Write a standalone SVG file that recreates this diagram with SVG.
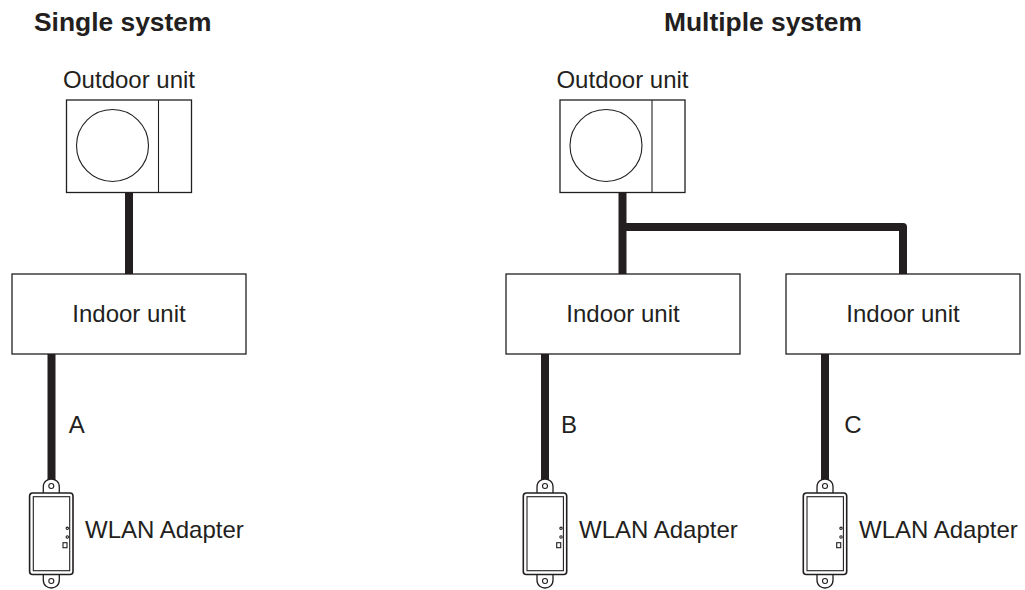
<svg xmlns="http://www.w3.org/2000/svg" width="1025" height="590" viewBox="0 0 1025 590">
<defs>
<style>
text{font-family:"Liberation Sans",Arial,sans-serif;font-size:24px;fill:#231f20}
.h{font-weight:bold;font-size:26.4px}
.box{fill:#fff;stroke:#231f20;stroke-width:1.3}
.body{fill:#fff;stroke:#231f20;stroke-width:1.6}
.thin{fill:none;stroke:#231f20;stroke-width:1.1}
.wire{fill:none;stroke:#231f20;stroke-width:8;stroke-linejoin:round}
</style>
<g id="outdoorShape">
<rect class="box" x="0" y="0" width="125" height="92.5"/>
<line class="thin" x1="92" y1="0" x2="92" y2="92.5"/>
<circle class="thin" cx="46" cy="45.5" r="36"/>
</g>
<g id="adapterShape">
<path class="box" d="M-8 2V-6Q-8 -10 -5.500 -12Q-3 -14 0 -14Q3 -14 5.500 -12Q8 -10 8 -6V2Z"/>
<circle class="thin" cx="0" cy="-7" r="2.500"/>
<path class="box" d="M-8 80V87Q-8 91 -5.500 93Q-3 95 0 95Q3 95 5.500 93Q8 91 8 87V80Z"/>
<circle class="thin" cx="0" cy="88" r="2.500"/>
<rect class="body" x="-21.700" y="0" width="43.400" height="81.500" rx="3"/>
<rect class="thin" x="-18" y="3.700" width="36.400" height="74"/>
<circle class="thin" cx="16" cy="35.300" r="1.200"/>
<circle class="thin" cx="16" cy="44" r="1.200"/>
<rect class="thin" x="11.700" y="49.700" width="4" height="5"/>
</g>
</defs>
<g id="connectors">
<line class="wire" x1="129" y1="192" x2="129" y2="274"/>
<line class="wire" x1="51.500" y1="354" x2="51.500" y2="480"/>
<line class="wire" x1="622.500" y1="192" x2="622.500" y2="274"/>
<path class="wire" d="M622.500 227H903V274"/>
<line class="wire" x1="545" y1="354" x2="545" y2="480"/>
<line class="wire" x1="825" y1="354" x2="825" y2="480"/>
</g>
<text id="title-single" class="h" x="34" y="31">Single system</text>
<text id="title-multiple" class="h" x="664" y="31">Multiple system</text>
<g id="outdoor-1"><text x="129" y="88" text-anchor="middle">Outdoor unit</text><use href="#outdoorShape" x="66.500" y="100"/></g>
<g id="outdoor-2"><text x="622.500" y="88" text-anchor="middle">Outdoor unit</text><use href="#outdoorShape" x="560" y="100"/></g>
<g id="indoor-1"><rect class="box" x="12" y="274" width="234" height="80"/><text x="129" y="322" text-anchor="middle">Indoor unit</text></g>
<g id="indoor-2"><rect class="box" x="506" y="274" width="234" height="80"/><text x="623" y="322" text-anchor="middle">Indoor unit</text></g>
<g id="indoor-3"><rect class="box" x="786" y="274" width="234" height="80"/><text x="903" y="322" text-anchor="middle">Indoor unit</text></g>
<g id="adapter-1"><use href="#adapterShape" x="51.300" y="493"/><text x="85" y="538">WLAN Adapter</text></g>
<g id="adapter-2"><use href="#adapterShape" x="545" y="493"/><text x="579" y="538">WLAN Adapter</text></g>
<g id="adapter-3"><use href="#adapterShape" x="825" y="493"/><text x="859" y="538">WLAN Adapter</text></g>
<text id="label-a" x="68.700" y="433">A</text>
<text id="label-b" x="561" y="433">B</text>
<text id="label-c" x="844.300" y="433">C</text>
</svg>
